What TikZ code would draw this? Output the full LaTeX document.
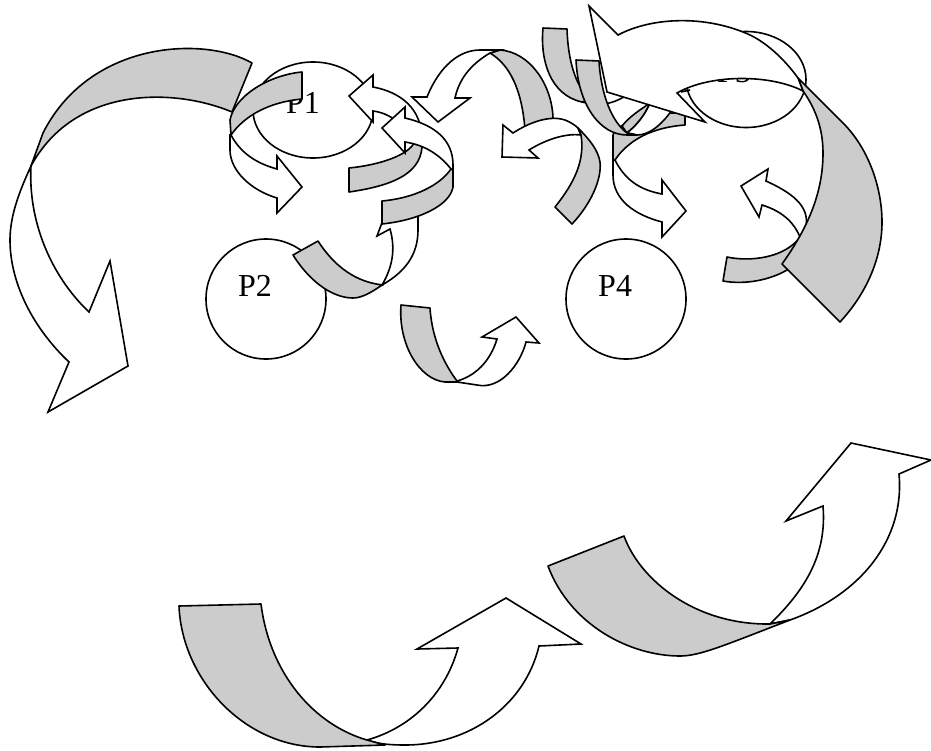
\documentclass[tikz,border=0pt]{standalone}
\usepackage{fontspec}
\setmainfont{Liberation Serif}
\usetikzlibrary{shapes.geometric}
\definecolor{band}{HTML}{CCCCCC}
\tikzset{
  blob/.style={draw=black,line width=1.6pt,fill=white,ellipse,inner sep=0pt,minimum width=#1},
  lab/.style={anchor=base west,inner sep=0pt,font=\fontsize{32}{32}\selectfont},
  whitepart/.style={draw=black,fill=white,line width=1.6pt,line join=miter},
  greypart/.style={draw=black,fill=band,line width=1.6pt,line join=round},
  thinline/.style={draw=black,line width=1.6pt}
}
\begin{document}
\begin{tikzpicture}[x=1pt,y=-1pt]
\useasboundingbox (0,0) rectangle (931,750);
% processes
\node[blob=120pt,minimum height=96pt] (c1) at (313,110) {};
\node[blob=120pt,minimum height=120pt] (c2) at (266,299) {};
\node[blob=120pt,minimum height=96pt] (c3) at (746,79.5) {};
\node[blob=120pt,minimum height=120pt] (c4) at (626,299) {};
\node[lab] (t1) at (286,113) {P1};
\node[lab] (t2) at (238,296) {P2};
\node[lab] (t3) at (717,82) {P3};
\node[lab] (t4) at (598,296) {P4};
% K
\path[greypart] (685,113) -- (665,113) .. controls (640,118) and (614,125) .. (613,135) -- (613,160) -- (615,160) .. controls (625,145) and (645,128) .. (685,125) -- cycle;
\path[whitepart] (615,160) .. controls (625,180) and (640,190) .. (662,194) -- (662,180) -- (686,211) -- (662,237) -- (662,222) .. controls (635,215) and (613,200) .. (613,175) -- (613,160) -- cycle;
% I
\fill[white] (582,102) .. controls (600,106) and (612,105) .. (625,96) -- (640,70) -- (600,60) -- cycle;
\path[greypart] (543,28) .. controls (540,60) and (550,95) .. (582,102) -- (590,100) .. controls (575,85) and (568,60) .. (567,29) -- cycle;
\draw[thinline] (582,102) .. controls (597,106) and (612,105) .. (625,96);
% leaf
\path[greypart] (622,126) .. controls (630,116) and (640,110) .. (650,103) .. controls (645,115) and (637,125) .. (627,133) -- cycle;
% J
\path[whitepart] (627,133) .. controls (637,125) and (645,115) .. (650,103) -- (672,110) .. controls (660,127) and (648,135) .. (637,135) -- cycle;
\path[greypart] (576,60) .. controls (578,105) and (600,135) .. (627,135) -- (637,135) -- (627,133) .. controls (612,122) and (601,95) .. (599,61) -- cycle;
% B
\path[whitepart] (231,135) .. controls (240,152) and (255,163) .. (277,169) -- (277,156) -- (302,187) -- (277,213) -- (277,198) .. controls (250,190) and (230,170) .. (230,150) -- (230,135) -- cycle;
\path[greypart] (302,72) .. controls (270,75) and (235,95) .. (230,120) -- (231,135) .. controls (245,115) and (270,102) .. (302,99) -- cycle;
% A
\path[whitepart] (31,166) .. controls (28,220) and (50,275) .. (89,312) -- (110,261) -- (128,366) -- (48,412) -- (69,362) .. controls (35,330) and (10,285) .. (10,240) .. controls (10,215) and (20,190) .. (31,166) -- cycle;
\path[greypart] (252,63) .. controls (205,36) and (90,40) .. (43,133) -- (31,166) .. controls (75,85) and (175,88) .. (232,112) -- cycle;
% E
\path[whitepart] (382,285) .. controls (392,268) and (396,250) .. (390,229) -- (377,236) -- (386,212) -- (418,205) -- (418,230) .. controls (418,255) and (405,272) .. (382,285) -- cycle;
\path[greypart] (318,241) .. controls (340,275) and (365,283) .. (383,285) -- (382,285) .. controls (372,292) and (362,298) .. (353,298) .. controls (335,298) and (312,285) .. (293,255) -- cycle;
% C
\path[whitepart] (414,143) .. controls (405,125) and (390,113) .. (373,111) -- (373,122) -- (349,96) -- (373,75) -- (373,87) .. controls (400,92) and (422,108) .. (422,140) -- (422,147) -- cycle;
\path[greypart] (349,168) .. controls (380,165) and (408,155) .. (414,143) -- (422,140) -- (422,147) .. controls (420,175) and (390,186) .. (349,192) -- cycle;
% D
\path[whitepart] (405,118) .. controls (435,125) and (453,140) .. (453,165) -- (453,170) -- (451,169) .. controls (440,155) and (425,145) .. (405,142) -- (405,153) -- (382,128) -- (405,107) -- cycle;
\path[greypart] (382,201) .. controls (415,198) and (440,185) .. (451,169) -- (453,170) -- (453,187) .. controls (450,205) and (420,220) .. (382,224) -- cycle;
% F
\path[whitepart] (457,381) .. controls (475,376) and (490,362) .. (497,339) -- (482,337) -- (516,317) -- (539,343) -- (526,342) .. controls (520,365) and (500,390) .. (477,385) -- (457,382) -- cycle;
\path[greypart] (401,305) .. controls (398,345) and (420,380) .. (445,382) -- (457,382) -- (457,381) .. controls (445,365) and (432,340) .. (430,308) -- cycle;
% G
\path[greypart] (490,53) .. controls (510,65) and (522,90) .. (525,130) -- (553,130) -- (553,118) .. controls (552,85) and (530,52) .. (500,50) -- cycle;
\path[whitepart] (427,97) .. controls (440,65) and (460,50) .. (480,50) -- (500,50) -- (490,53) .. controls (475,62) and (460,75) .. (455,98) -- (470,98) -- (438,122) -- (412,97) -- cycle;
% H
\path[whitepart] (581,135) .. controls (565,133) and (545,140) .. (529,150) -- (538,158) -- (502,157) -- (503,125) -- (513,133) .. controls (530,122) and (550,115) .. (565,120) .. controls (570,122) and (575,125) .. (578,128) -- cycle;
\path[greypart] (555,207) .. controls (575,182) and (585,160) .. (581,135) -- (578,128) .. controls (590,140) and (598,150) .. (600,162) .. controls (602,180) and (590,205) .. (572,224) -- cycle;
% L
\path[whitepart] (800,237) .. controls (795,225) and (785,212) .. (762,205) -- (759,217) -- (741,186) -- (768,169) -- (766,181) .. controls (790,192) and (810,205) .. (806,227) -- (803,240) -- cycle;
\path[greypart] (727,257) .. controls (750,262) and (785,258) .. (800,237) -- (803,240) -- (787,270) .. controls (770,280) and (745,285) .. (723,281) -- cycle;
% M
\path[greypart] (798,78) -- (843,123) .. controls (870,150) and (882,190) .. (882,222) .. controls (882,260) and (865,295) .. (840,322) -- (782,264) .. controls (810,225) and (823,190) .. (823,153) .. controls (823,125) and (813,105) .. (803,91) -- cycle;
\path[whitepart] (589,6) -- (618,35) .. controls (650,18) and (700,15) .. (743,32) .. controls (765,40) and (785,60) .. (798,78) -- (803,91) .. controls (770,74) and (710,74) .. (677,93) -- (705,122) -- (607,92) -- cycle;
\draw[thinline] (681,92) -- (690,90);
% N
\path[whitepart] (367,740) .. controls (410,728) and (445,695) .. (458,648) -- (417,649) -- (506,598) -- (581,644) -- (539,646) .. controls (525,705) and (470,745) .. (405,745) .. controls (385,745) and (375,743) .. (367,740) -- cycle;
\path[greypart] (179,606) .. controls (182,680) and (245,747) .. (320,747) -- (385,745) -- (367,740) .. controls (315,725) and (270,675) .. (261,604) -- cycle;
% O
\path[whitepart] (770,624) .. controls (805,590) and (827,555) .. (823,506) -- (786,521) -- (851,443) -- (931,460) -- (899,474) .. controls (905,540) and (860,595) .. (790,620) -- cycle;
\path[greypart] (548,566) .. controls (570,625) and (630,656) .. (680,656) .. controls (700,656) and (725,645) .. (790,620) -- (770,624) .. controls (695,625) and (640,580) .. (624,536) -- cycle;
\end{tikzpicture}
\end{document}
